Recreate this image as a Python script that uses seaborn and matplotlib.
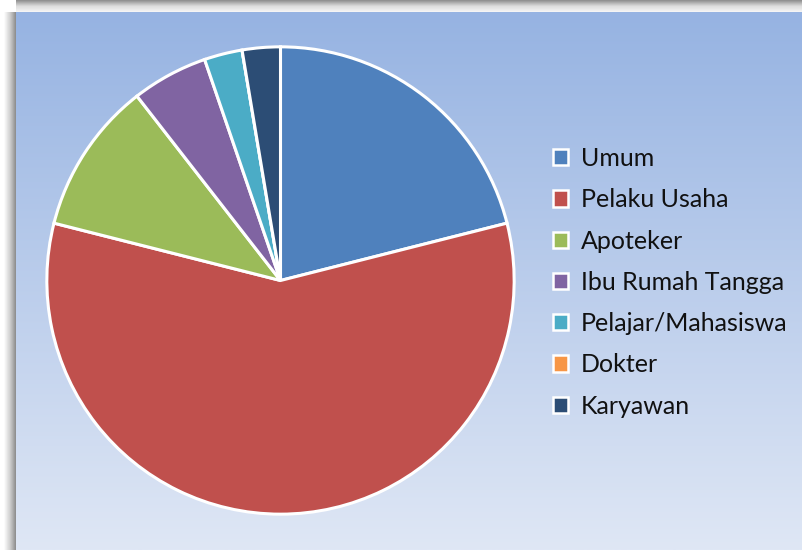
import matplotlib
matplotlib.use("Agg")
import matplotlib.pyplot as plt
import numpy as np
import seaborn as sns
from matplotlib.patches import Patch
from matplotlib.colors import LinearSegmentedColormap

sns.set_theme(style="white")
plt.rcParams["font.family"] = ["Lato", "DejaVu Sans"]

# ---------------------------------------------------------------------------
# Data
# ---------------------------------------------------------------------------
categories = ["Umum", "Pelaku Usaha", "Apoteker", "Ibu Rumah Tangga",
              "Pelajar/Mahasiswa", "Dokter", "Karyawan"]
counts = [8, 22, 4, 2, 1, 0, 1]
colors = ["#4F81BD", "#C0504D", "#9BBB59", "#8064A2",
          "#4BACC6", "#F79646", "#2C4D75"]

W, H = 803, 550
fig = plt.figure(figsize=(W / 100, H / 100), dpi=100)
fig.patch.set_facecolor("white")

# ---------------------------------------------------------------------------
# Background: shadow + blue vertical gradient
# ---------------------------------------------------------------------------
bg = fig.add_axes([0, 0, 1, 1])
bg.set_xlim(0, W)
bg.set_ylim(H, 0)
bg.axis("off")

shadow = LinearSegmentedColormap.from_list("sh", ["#ffffff", "#d0d0d0", "#8c8c8c"])
bg.imshow(np.linspace(0, 1, 64)[None, :], extent=[4, 16, H, 12],
          cmap=shadow, aspect="auto", zorder=0)
bg.imshow(np.linspace(0, 1, 64)[:, None], extent=[16, W, 0, 12],
          cmap=LinearSegmentedColormap.from_list("sh2", ["#f6f6f6", "#dcdcdc", "#8c8c8c"]),
          aspect="auto", zorder=0)
grad = LinearSegmentedColormap.from_list("bg", ["#96b3e2", "#dfe7f5"])
bg.imshow(np.linspace(0, 1, 256)[:, None], extent=[16, W, H, 12],
          cmap=grad, aspect="auto", zorder=1)

# ---------------------------------------------------------------------------
# Pie
# ---------------------------------------------------------------------------
cx, cy, r = 280.5, 280.5, 236
ax = fig.add_axes([(cx - r) / W, (H - cy - r) / H, 2 * r / W, 2 * r / H])
ax.axis("off")
ax.pie(counts, colors=colors, startangle=90, counterclock=False, radius=1,
       wedgeprops=dict(edgecolor="white", linewidth=2.2))
ax.set_xlim(-1.01, 1.01)
ax.set_ylim(-1.01, 1.01)

# ---------------------------------------------------------------------------
# Legend
# ---------------------------------------------------------------------------
handles = [Patch(facecolor=c, edgecolor="white", linewidth=1.8) for c in colors]
fig.legend(handles, categories, loc="upper left",
           bbox_to_anchor=(553 / W, 1 - 147 / H), frameon=False,
           fontsize=18, labelcolor="#111111", handlelength=0.62,
           handleheight=0.62, handletextpad=0.5, labelspacing=0.73,
           borderpad=0, borderaxespad=0)

fig.savefig("out.png", dpi=100)
